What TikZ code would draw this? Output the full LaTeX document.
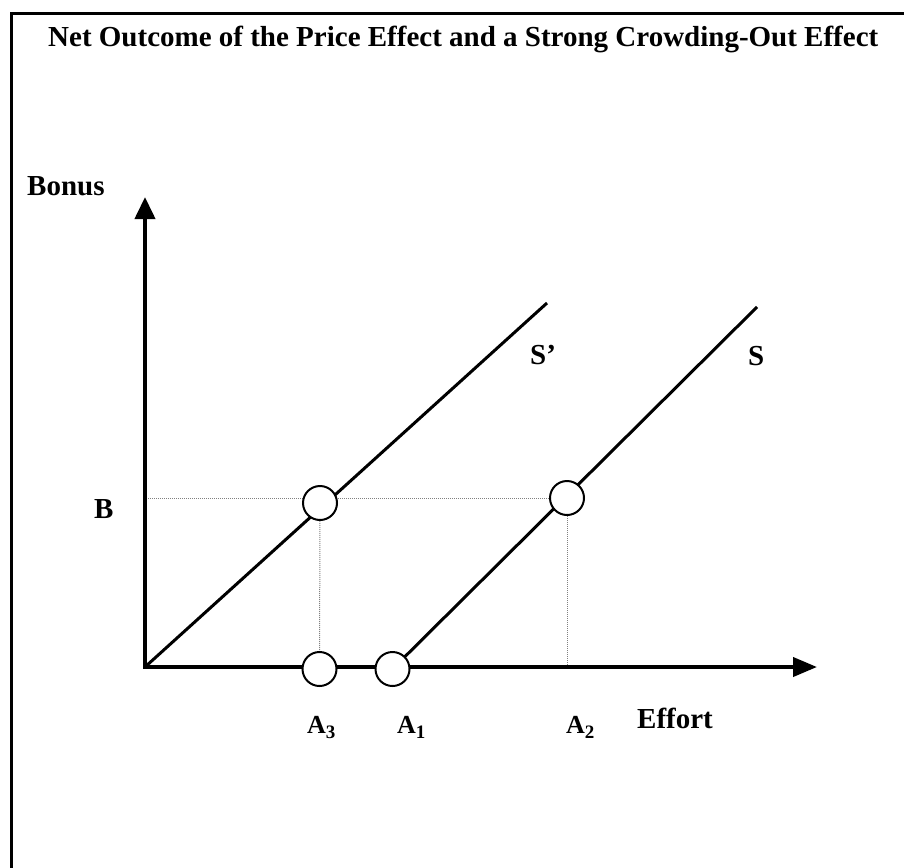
\documentclass[tikz,border=0pt]{standalone}
\usepackage{fontspec}
\setmainfont{Liberation Serif}
\usetikzlibrary{arrows.meta,backgrounds}
\newcommand{\lowsub}[1]{\raisebox{-0.22em}{\fontsize{19}{19}\selectfont #1}}
\begin{document}
\begin{tikzpicture}[x=1pt,y=-1pt,
  frameline/.style={line width=3pt},
  axisline/.style={line width=4pt,{Triangle[length=22pt,width=20pt]}-{Triangle[length=24pt,width=19pt]}},
  supply/.style={line width=3pt},
  guide/.style={line width=1pt,gray,densely dotted},
  pt/.style={circle,draw,fill=white,line width=2pt,minimum size=34pt,inner sep=0pt},
  lbl/.style={inner sep=0pt,anchor=base west,font=\fontsize{29}{32}\selectfont\bfseries},
  albl/.style={inner sep=0pt,anchor=base west,font=\fontsize{26}{30}\selectfont\bfseries}]
\useasboundingbox (0,0) rectangle (904,867);
\draw[frameline] (906,14) -- (11,14) -- (11,870);

\coordinate (O) at (145,667);
\coordinate (ytip) at (145,197);
\coordinate (xtip) at (817,667);
\coordinate (Sptop) at (547,303);
\coordinate (Stop) at (757,307);
\coordinate (Bstart) at (148,498);

\node[pt] (c1) at (320,503) {};
\node[pt] (c2) at (567,498) {};
\node[pt] (a3c) at (319.5,669) {};
\node[pt] (a1c) at (392.5,669) {};

\begin{scope}[on background layer]
\draw[guide] (Bstart) -- (c2.center);
\draw[guide] (c1.center) -- (a3c.center);
\draw[guide] (c2.center) -- (c2.center |- O);
\draw[axisline] (ytip) -- (O) -- (xtip);
\draw[supply] (O) -- (Sptop);
\draw[supply] (a1c.center) -- (Stop);
\end{scope}

\node[lbl] (title) at (48,47) {Net Outcome of the Price Effect and a Strong Crowding-Out Effect};
\node[lbl] (bonus) at (27,195) {Bonus};
\node[lbl] (blab) at (94,518) {B};
\node[lbl] (splab) at (530,364) {S’};
\node[lbl] (slab) at (748,365) {S};
\node[albl] (a3lab) at (307,733) {A\lowsub{3}};
\node[albl] (a1lab) at (397,733) {A\lowsub{1}};
\node[albl] (a2lab) at (566,733) {A\lowsub{2}};
\node[lbl] (effort) at (637,728) {Effort};
\end{tikzpicture}
\end{document}
